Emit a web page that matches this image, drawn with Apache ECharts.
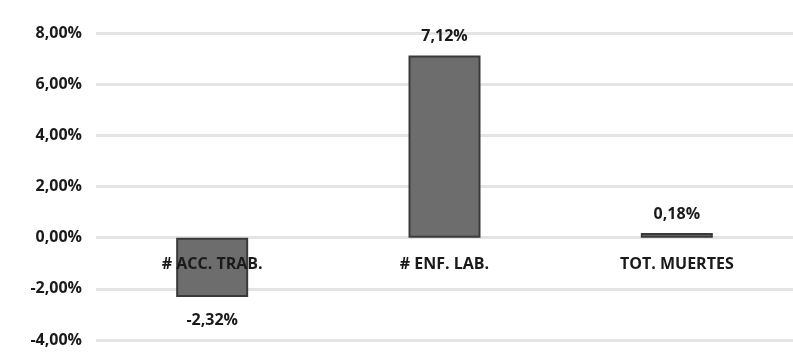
<!DOCTYPE html>
<html>
<head>
<meta charset="utf-8">
<script src="https://cdn.jsdelivr.net/npm/echarts@6/dist/echarts.min.js"></script>
<style>
  html, body { margin: 0; padding: 0; background: #ffffff; }
  #chart { width: 793px; height: 354px; }
</style>
</head>
<body>
<div id="chart"></div>
<script>
// Year-on-year variation per indicator (percent)
const categories = ['# ACC. TRAB.', '# ENF. LAB.', 'TOT. MUERTES'];
const variation = [-2.32, 7.12, 0.18];
const yTicks = { min: -4, max: 8, interval: 2 };

const fmt = v => v.toFixed(2).replace('.', ',') + '%';
const textColor = '#1a1a1a';
const font = '"Open Sans", "DejaVu Sans", sans-serif';

const chart = echarts.init(document.getElementById('chart'));
chart.setOption({
  backgroundColor: '#ffffff',
  animation: false,
  grid: { left: 96, right: 0, top: 33, bottom: 14, outerBoundsMode: 'none', containLabel: false },
  xAxis: {
    type: 'category',
    data: categories,
    z: 10,
    axisLine: { show: false, onZero: false },
    axisTick: { show: false },
    // category names sit just under the zero line
    axisLabel: {
      margin: -84,
      color: textColor,
      fontFamily: font,
      fontWeight: 'bold',
      fontSize: 16
    }
  },
  yAxis: {
    type: 'value',
    min: yTicks.min,
    max: yTicks.max,
    interval: yTicks.interval,
    axisLine: { show: false },
    axisTick: { show: false },
    axisLabel: {
      margin: 14,
      color: textColor,
      fontFamily: font,
      fontWeight: 'bold',
      fontSize: 16,
      formatter: fmt
    },
    splitLine: { lineStyle: { color: '#e4e4e4', width: 3 } }
  },
  series: [{
    type: 'bar',
    barWidth: 72,
    data: variation.map(v => ({
      value: v,
      label: { position: v < 0 ? 'bottom' : 'top', distance: v < 0 ? 15 : 11 }
    })),
    itemStyle: { color: '#6d6d6d', borderColor: '#3a3a3a', borderWidth: 2 },
    label: {
      show: true,
      color: textColor,
      fontFamily: font,
      fontWeight: 'bold',
      fontSize: 16,
      formatter: p => fmt(p.value)
    }
  }]
});
</script>
</body>
</html>
